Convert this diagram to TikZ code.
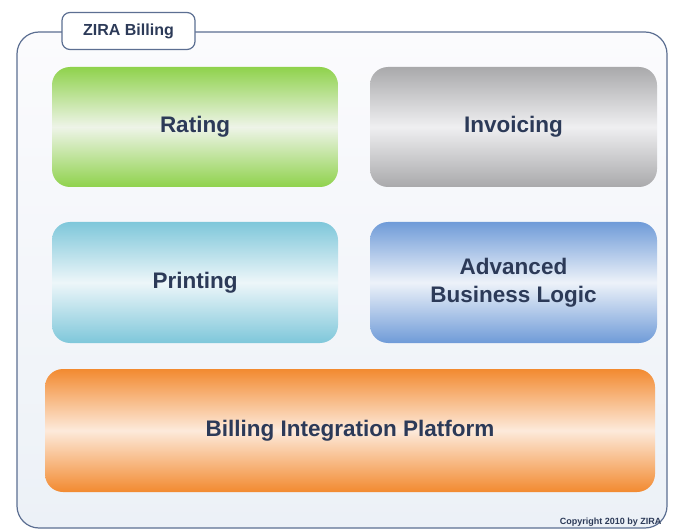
\documentclass[tikz,border=0pt]{standalone}
\usepackage{fontspec}
\setmainfont{Liberation Sans}
\begin{document}
\begin{tikzpicture}[x=1pt,y=-1pt,
  block/.style={rounded corners=18pt, draw=none, font=\bfseries\fontsize{22.5}{28}\selectfont, text=navy, align=center, inner sep=0pt},
  greenblock/.style={block, top color=gtop, bottom color=gtop, middle color=gmid},
  greyblock/.style={block, top color=ktop, bottom color=ktop, middle color=kmid},
  cyanblock/.style={block, top color=ctop, bottom color=ctop, middle color=cmid},
  blueblock/.style={block, top color=btop, bottom color=btop, middle color=bmid},
  orangeblock/.style={block, top color=otop, bottom color=otop, middle color=omid},
]
\definecolor{navy}{HTML}{2C3A58}
\definecolor{frame}{HTML}{5C6F92}
\definecolor{gtop}{HTML}{8FD24C}
\definecolor{gmid}{HTML}{EEF4E8}
\definecolor{ktop}{HTML}{A9A9AB}
\definecolor{kmid}{HTML}{EFEFF1}
\definecolor{ctop}{HTML}{7EC7DA}
\definecolor{cmid}{HTML}{EDF6F9}
\definecolor{btop}{HTML}{6F9BD8}
\definecolor{bmid}{HTML}{EDF2F9}
\definecolor{otop}{HTML}{F28A30}
\definecolor{omid}{HTML}{FDEADB}
\definecolor{paneltop}{HTML}{FBFBFD}
\definecolor{panelbot}{HTML}{ECF1F7}

\useasboundingbox (0,0) rectangle (678,532);
\fill[white] (0,0) rectangle (678,532);

% outer panel
\shade[top color=paneltop, bottom color=panelbot, rounded corners=22pt]
  (17,32) rectangle (667,528);
\draw[frame, line width=1.2pt, rounded corners=22pt]
  (17,32) rectangle (667,528);

% title tab
\node[draw=frame, line width=1.2pt, fill=white, rounded corners=8pt,
      minimum width=133pt, minimum height=37pt, inner sep=0pt,
      font=\bfseries\fontsize{16}{19}\selectfont, text=navy]
  (title) at (128.5,31) {ZIRA Billing};

% building blocks
\path[greenblock]  (52,67)  rectangle (338,187) node[midway] (rating) {Rating};
\path[greyblock]   (370,67) rectangle (657,187) node[midway] (invoicing) {Invoicing};
\path[cyanblock]   (52,222) rectangle (338,343) node[midway] (printing) {Printing};
\path[blueblock]   (370,222) rectangle (657,343) node[midway] (abl) {Advanced\\Business Logic};
\path[orangeblock] (45,369) rectangle (655,492) node[midway] (bip) {Billing Integration Platform};

% footer
\node[font=\bfseries\fontsize{9}{11}\selectfont, text=navy, anchor=east]
  (copy) at (665,522) {Copyright 2010 by ZIRA};
\end{tikzpicture}
\end{document}
